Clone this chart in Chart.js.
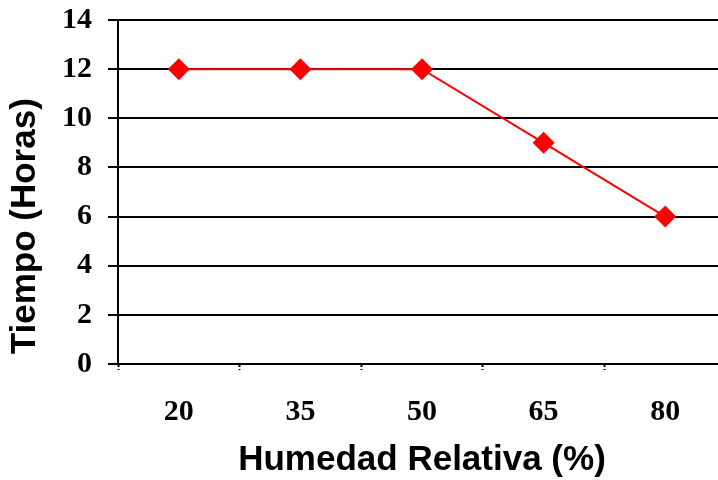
<!DOCTYPE html>
<html>
<head>
<meta charset="utf-8">
<script src="https://cdn.jsdelivr.net/npm/chart.js@4/dist/chart.umd.min.js"></script>
<style>
  html, body { margin: 0; padding: 0; background: #fff; overflow: hidden; }
  #wrap { width: 718px; height: 480px; overflow: hidden; }
  canvas { display: block; }
</style>
</head>
<body>
<div id="wrap"><canvas id="c" width="740" height="480"></canvas></div>
<script>
// Humedad relativa (%) en el eje X
const humedad = ['20', '35', '50', '65', '80'];
// Tiempo (horas) para cada nivel de humedad
const tiempo = [12, 12, 12, 9, 6];
// Escala del eje Y
const yMin = 0, yMax = 14, yStep = 2;

const tickFont = { family: '"Liberation Serif", "Times New Roman", serif', size: 30, weight: 'bold' };
const titleFont = { family: '"Liberation Sans", Arial, sans-serif', size: 35, weight: 'bold', lineHeight: 1 };

new Chart(document.getElementById('c'), {
  type: 'line',
  data: {
    labels: humedad,
    datasets: [{
      data: tiempo,
      borderColor: '#ff0000',
      backgroundColor: '#ff0000',
      borderWidth: 2,
      pointStyle: 'rectRot',
      pointRadius: 11,
      pointHoverRadius: 11,
      pointBorderWidth: 0,
      tension: 0,
      fill: false
    }]
  },
  options: {
    responsive: false,
    animation: false,
    devicePixelRatio: 1,
    layout: { padding: { top: 20, right: 14, bottom: 0, left: 0 } },
    plugins: { legend: { display: false }, tooltip: { enabled: false } },
    scales: {
      x: {
        type: 'category',
        offset: true,
        afterFit: (s) => { s.height = 116; s.paddingLeft = 0; s.paddingRight = 0; },
        border: { display: true, color: '#000', width: 2, dash: [2, 2] },
        grid: {
          offset: true,
          drawOnChartArea: false,
          drawTicks: true,
          tickLength: 6,
          tickColor: '#000',
          tickWidth: 2,
          tickBorderDash: [2, 2]
        },
        ticks: { color: '#000', font: tickFont, padding: 24, maxRotation: 0 },
        title: {
          display: true,
          text: 'Humedad Relativa (%)',
          color: '#000',
          font: titleFont,
          padding: { top: 0, bottom: 2 }
        }
      },
      y: {
        min: yMin,
        max: yMax,
        afterFit: (s) => { s.width = 118; s.paddingTop = 0; s.paddingBottom = 0; },
        border: { display: true, color: '#000', width: 2 },
        grid: {
          color: (ctx) => (ctx.tick && ctx.tick.value === 0) ? 'rgba(0,0,0,0)' : '#000',
          tickColor: '#000',
          lineWidth: 2,
          tickWidth: 2,
          tickLength: 10
        },
        ticks: { stepSize: yStep, color: '#000', font: tickFont, padding: 16 },
        title: {
          display: true,
          text: ' Tiempo (Horas)',
          align: 'start',
          color: '#000',
          font: titleFont,
          padding: { top: 8, bottom: 0 }
        }
      }
    }
  }
});
</script>
</body>
</html>
